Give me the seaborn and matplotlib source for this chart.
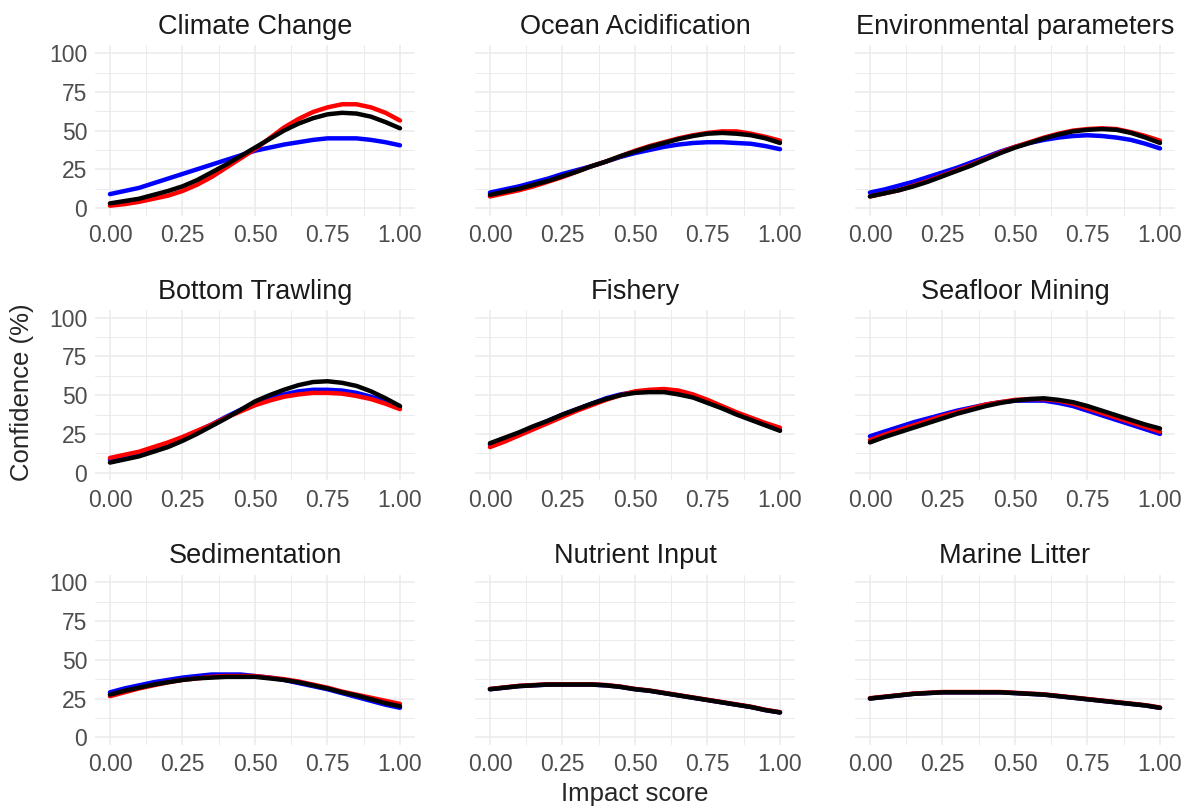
import numpy as np
import pandas as pd
import matplotlib
matplotlib.use("Agg")
import matplotlib.pyplot as plt
from matplotlib.ticker import MultipleLocator, FormatStrFormatter
import seaborn as sns

# impact score grid the curves were read at
impact = [0.00, 0.05, 0.10, 0.15, 0.20, 0.25, 0.30, 0.35, 0.40, 0.45, 0.50,
          0.55, 0.60, 0.65, 0.70, 0.75, 0.80, 0.85, 0.90, 0.95, 1.00]

panels = ["Climate Change", "Ocean Acidification", "Environmental parameters",
          "Bottom Trawling", "Fishery", "Seafloor Mining",
          "Sedimentation", "Nutrient Input", "Marine Litter"]

# confidence (%) per panel, one list per curve colour
climate_blue = [9, 11, 13, 16, 19, 22, 25, 28, 31, 34, 37, 39, 41, 42.5, 44, 45, 45, 45, 44, 42.5, 40.5]
climate_red = [1.5, 2.5, 4, 6, 8, 11, 15, 20, 26, 32, 38, 45, 52, 57.5, 62, 65, 67, 67, 65, 61.5, 56.5]
climate_black = [3, 4.5, 6, 8.5, 11, 14, 18, 23, 28, 33.5, 39, 44.5, 50, 54.5, 58, 60.5, 61.5, 61, 59, 55.5, 51.5]

ocean_blue = [10, 12, 14, 16.5, 19, 22, 24.5, 27, 30, 33, 35.5, 37.5, 39.5, 41, 42, 42.5, 42.5, 42, 41.5, 40, 38]
ocean_red = [7.5, 9.5, 11.5, 14, 17, 20, 23.5, 27, 30, 33.5, 37, 40, 42.5, 45, 47, 48.5, 49.5, 49.5, 48, 46, 43.5]
ocean_black = [8.5, 10.5, 12.5, 15, 17.5, 20.5, 23.5, 27, 30, 33.5, 36.5, 39.5, 42, 44.5, 46.5, 48, 48.5, 48, 47, 45, 42]

env_blue = [10, 12, 14.5, 17, 20, 23, 26, 29.5, 33, 36.5, 39.5, 42, 44, 45.5, 46.5, 47, 46.5, 45.5, 44, 41.5, 38.5]
env_red = [7.5, 9.5, 11.5, 14.5, 17.5, 21, 24.5, 28, 32, 36, 39.5, 42.5, 45.5, 48, 50, 51, 51.5, 51, 49, 46.5, 43.5]
env_black = [7.5, 9.5, 11.5, 14, 17, 20.5, 24, 27.5, 31.5, 35.5, 39, 42, 45, 47.5, 49.5, 50.5, 51, 50.5, 48.5, 45.5, 42]

trawl_blue = [8.5, 10.5, 12.5, 15.5, 18.5, 22.5, 26.5, 31, 36, 40.5, 45, 48, 50.5, 52.5, 53.5, 53.5, 53, 51.5, 49, 46, 42.5]
trawl_red = [9.5, 11.5, 13.5, 16.5, 19.5, 23, 27, 31, 35.5, 39.5, 43.5, 46.5, 49, 50.5, 51.5, 51.5, 51, 49.5, 47.5, 44.5, 41]
trawl_black = [6.5, 8.5, 10.5, 13.5, 16.5, 20.5, 25, 30, 35, 40.5, 46, 50, 53.5, 56.5, 58.5, 59, 58, 56, 52.5, 48, 43]

fish_blue = [18, 21.5, 25.5, 29.5, 33.5, 37.5, 41, 44.5, 48, 50.5, 52, 52.5, 52.5, 51, 49, 46, 42, 38, 34.5, 31, 27.5]
fish_red = [16.5, 20, 24, 28, 32, 36, 40, 43.5, 47, 50, 52.5, 53.5, 54, 53, 50.5, 47, 43, 39, 35.5, 32, 29]
fish_black = [19, 22.5, 26, 30, 33.5, 37.5, 41, 44.5, 47.5, 50, 51.5, 52, 52, 50.5, 48.5, 45, 41.5, 37.5, 34, 30.5, 27]

mining_blue = [23.5, 26.5, 29.5, 32.5, 35, 37.5, 40, 42, 44, 45.5, 46.5, 46.5, 46.5, 45, 43, 40, 37, 34, 31, 28, 25]
mining_red = [21, 24.5, 27.5, 30.5, 33.5, 36.5, 39, 41.5, 44, 45.5, 47, 47.5, 47.5, 46.5, 44.5, 41.5, 38.5, 35.5, 32.5, 29.5, 26.5]
mining_black = [19.5, 23, 26, 29, 32, 35, 38, 40.5, 43, 45, 46.5, 47.5, 48, 47, 45.5, 43, 40, 37, 34, 31, 28.5]

sed_blue = [29, 31.5, 33.5, 35.5, 37, 38.5, 39.5, 40.5, 40.5, 40.5, 39.5, 38.5, 37, 35, 33, 31, 28.5, 26, 23.5, 21, 19]
sed_red = [26.5, 29, 31.5, 33.5, 35.5, 37, 38, 39, 39.5, 39.5, 39.5, 38.5, 37.5, 36, 34, 32, 29.5, 27.5, 25.5, 23.5, 21.5]
sed_black = [27.5, 30, 32, 34, 35.5, 37, 38, 38.5, 39, 39, 39, 38, 37, 35.5, 33.5, 31.5, 29, 27, 24.5, 22, 20]

nutrient_blue = [31, 32, 33, 33.5, 34, 34, 34, 34, 33.5, 32.5, 31, 30, 28.5, 27, 25.5, 24, 22.5, 21, 19.5, 17.5, 16]
nutrient_red = [31.2, 32.2, 33.2, 33.7, 34.2, 34.2, 34.2, 34.2, 33.7, 32.7, 31.2, 30.2, 28.7, 27.2, 25.7, 24.2, 22.7, 21.2, 19.7, 17.7, 16.2]
nutrient_black = [31, 32, 33, 33.5, 34, 34, 34, 34, 33.5, 32.5, 31, 30, 28.5, 27, 25.5, 24, 22.5, 21, 19.5, 17.5, 16]

litter_blue = [25, 26, 27, 28, 28.5, 29, 29, 29, 29, 29, 28.5, 28, 27.5, 26.5, 25.5, 24.5, 23.5, 22.5, 21.5, 20.5, 19]
litter_red = [25.2, 26.2, 27.2, 28.2, 28.7, 29.2, 29.2, 29.2, 29.2, 29.2, 28.7, 28.2, 27.7, 26.7, 25.7, 24.7, 23.7, 22.7, 21.7, 20.7, 19.2]
litter_black = [25, 26, 27, 28, 28.5, 29, 29, 29, 29, 29, 28.5, 28, 27.5, 26.5, 25.5, 24.5, 23.5, 22.5, 21.5, 20.5, 19]

curves = {
    "Climate Change": (climate_blue, climate_red, climate_black),
    "Ocean Acidification": (ocean_blue, ocean_red, ocean_black),
    "Environmental parameters": (env_blue, env_red, env_black),
    "Bottom Trawling": (trawl_blue, trawl_red, trawl_black),
    "Fishery": (fish_blue, fish_red, fish_black),
    "Seafloor Mining": (mining_blue, mining_red, mining_black),
    "Sedimentation": (sed_blue, sed_red, sed_black),
    "Nutrient Input": (nutrient_blue, nutrient_red, nutrient_black),
    "Marine Litter": (litter_blue, litter_red, litter_black),
}

rows = []
for name in panels:
    for colour, vals in zip(["blue", "red", "black"], curves[name]):
        for x, y in zip(impact, vals):
            rows.append({"panel": name, "group": colour, "impact": x, "conf": y})
df = pd.DataFrame(rows)

sns.set_theme(style="white")
plt.rcParams["font.family"] = ["Liberation Sans", "DejaVu Sans"]

fig, axes = plt.subplots(3, 3, figsize=(11.93, 8.11), dpi=100, sharey=True)
fig.subplots_adjust(left=0.080, right=0.9845, top=0.944, bottom=0.0814,
                    wspace=0.191, hspace=0.553)

palette = {"blue": "#0000FF", "red": "#FF0000", "black": "#000000"}

for ax, name in zip(axes.flat, panels):
    sub = df[df["panel"] == name]
    sns.lineplot(data=sub, x="impact", y="conf", hue="group",
                 hue_order=["blue", "red", "black"], palette=palette,
                 linewidth=3.2, legend=False, ax=ax)
    ax.set_xlim(-0.05, 1.05)
    ax.set_ylim(-5, 105)
    ax.xaxis.set_major_locator(MultipleLocator(0.25))
    ax.xaxis.set_minor_locator(MultipleLocator(0.125))
    ax.yaxis.set_major_locator(MultipleLocator(25))
    ax.yaxis.set_minor_locator(MultipleLocator(12.5))
    ax.xaxis.set_major_formatter(FormatStrFormatter("%.2f"))
    ax.yaxis.set_major_formatter(FormatStrFormatter("%d"))
    ax.grid(which="major", color="#EBEBEB", linewidth=1.1)
    ax.grid(which="minor", color="#EBEBEB", linewidth=0.7)
    ax.set_axisbelow(True)
    for s in ax.spines.values():
        s.set_visible(False)
    ax.tick_params(which="both", length=0, labelsize=16.5, labelcolor="#4D4D4D", pad=6)
    ax.set_title(name, fontsize=19.5, color="#1A1A1A", pad=8)
    ax.set_xlabel("")
    ax.set_ylabel("")

fig.text(0.532, 0.006, "Impact score", ha="center", va="bottom", fontsize=18.5)
fig.text(0.008, 0.517, "Confidence (%)", ha="left", va="center",
         rotation=90, fontsize=18.5)

fig.savefig("out.png", dpi=100, facecolor="white")
